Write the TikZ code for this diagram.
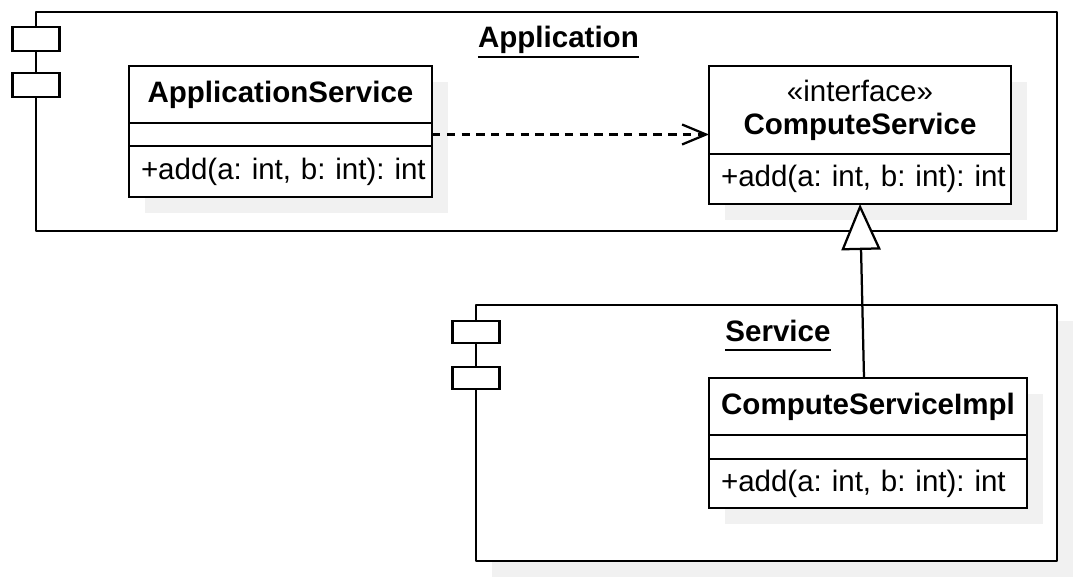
\documentclass[tikz,border=0pt]{standalone}
\usepackage{fontspec}
\setmainfont{Liberation Sans}
\usepackage{tkz-euclide}
\usetikzlibrary{positioning,shadows,arrows.meta}

\definecolor{shadowgray}{RGB}{241,241,241}
\newcommand\umlsize{\fontsize{21}{23.5}\selectfont\frenchspacing}
\newcommand\opline[1]{\mbox{#1}}

\tikzset{
	clsbox/.style={draw, fill=white, line width=1.6pt, inner sep=0pt, outer sep=0pt,
		drop shadow={shadow xshift=0.4cm, shadow yshift=-0.4cm, fill=shadowgray, opacity=1}},
	clsname/.style={clsbox, align=center},
	clsop/.style={clsbox, inner xsep=0.3cm, align=left},
	pkgtitle/.style={font=\umlsize\bfseries, inner sep=0pt, anchor=base},
	depend/.style={line width=1.6pt, dash pattern=on 6pt off 4.5pt,
		-{Straight Barb[length=0.6cm, width=0.5cm]}},
	realize/.style={line width=1.6pt, -{Triangle[fill=white, length=1.15cm, width=0.98cm]}}
}

\begin{document}
\begin{tikzpicture}[font=\umlsize]
		\useasboundingbox (0,0) rectangle (27,14.525);

		% Application package
		\tkzDefPoint(0.9,14.225){A}
		\tkzDefPoint(26.425,14.225){B}
		\tkzDefPoint(26.425,8.75){C}
		\tkzDefPoint(0.9,8.75){D}
		\tkzDrawPolygon[color=black,line width=1.6pt](A,B,C,D)

		\tkzDefPoint(0.3125,13.85){I}
		\tkzDefPoint(1.4875,13.25){J}
		\tkzDefPoint(0.3125,12.7){K}
		\tkzDefPoint(1.4875,12.1){L}
		\draw[line width=1.6pt,fill=white] (I) rectangle (J);
		\draw[line width=1.6pt,fill=white] (K) rectangle (L);

		% Service package
		\tkzDefPoint(11.9,6.9){E}
		\tkzDefPoint(26.425,6.9){F}
		\tkzDefPoint(26.425,0.5){G}
		\tkzDefPoint(11.9,0.5){H}
		\fill[shadowgray] ([shift={(0.4,-0.4)}]E) rectangle ([shift={(0.4,-0.4)}]G);
		\tkzDrawPolygon[color=black,fill=white,line width=1.6pt](E,F,G,H)

		\tkzDefPoint(11.3125,6.5){M}
		\tkzDefPoint(12.4875,5.95){N}
		\tkzDefPoint(11.3125,5.35){O}
		\tkzDefPoint(12.4875,4.8){P}
		\draw[line width=1.6pt,fill=white] (M) rectangle (N);
		\draw[line width=1.6pt,fill=white] (O) rectangle (P);

		\node[pkgtitle] (apptitle) at (13.96,13.325) {Application};
		\draw[line width=1.5pt] ([yshift=-0.22cm]apptitle.base west) -- ([yshift=-0.22cm]apptitle.base east);
		\node[pkgtitle] (srvtitle) at (19.45,5.975) {Service};
		\draw[line width=1.5pt] ([yshift=-0.2cm]srvtitle.base west) -- ([yshift=-0.2cm]srvtitle.base east);

		% classes
		\node[clsname, minimum width=7.575cm, minimum height=1.425cm, anchor=north west] (asname) at (3.225,12.875) {\textbf{ApplicationService}};
		\node[clsbox, minimum width=7.575cm, minimum height=0.575cm, below=0pt of asname] (asattr) {};
		\node[clsop, text width=6.975cm, minimum height=1.275cm, below=0pt of asattr] (asop) {\opline{+add(a: int, b: int): int}};

		\node[clsname, minimum width=7.55cm, minimum height=2.2cm, anchor=north west] (csname) at (17.725,12.875) {«interface»\\\textbf{ComputeService}};
		\node[clsop, text width=6.95cm, minimum height=1.25cm, below=0pt of csname] (csop) {\opline{+add(a: int, b: int): int}};

		\node[clsname, minimum width=7.95cm, minimum height=1.425cm, anchor=north west] (implname) at (17.725,5.075) {\textbf{ComputeServiceImpl}};
		\node[clsbox, minimum width=7.95cm, minimum height=0.6cm, below=0pt of implname] (implattr) {};
		\node[clsop, text width=7.35cm, minimum height=1.225cm, below=0pt of implattr] (implop) {\opline{+add(a: int, b: int): int}};

		\draw[depend] (asattr.east) -- (asattr.east -| csname.west);
		\draw[realize] ([xshift=-0.1cm]implname.north) -- (csop.south);
	\end{tikzpicture}
\end{document}
